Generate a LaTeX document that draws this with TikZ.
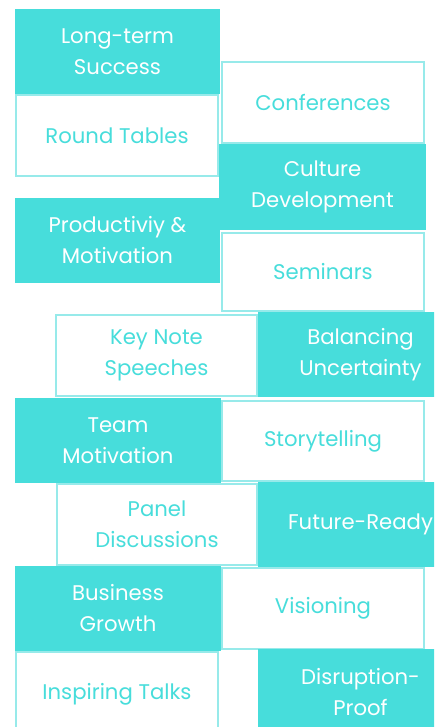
\documentclass[tikz,border=0pt]{standalone}
\usepackage{fontspec}
\setmainfont{Poppins}
\definecolor{teal}{HTML}{47DDDB}
\definecolor{tealline}{HTML}{97EAEA}
\tikzset{
  hub/.style={rectangle, fill=teal, text=white, anchor=north west, align=center,
    inner sep=0pt, outer sep=0pt, font=\fontsize{21.2}{31}\selectfont},
  spoke/.style={rectangle, fill=white, draw=tealline, line width=2.4pt, text=teal,
    anchor=north west, align=center, inner sep=0pt, outer sep=0pt,
    font=\fontsize{21.2}{31}\selectfont}
}

\begin{document}
\begin{tikzpicture}[x=1pt,y=-1pt]
    \useasboundingbox (0,0) rectangle (434,727);
    \clip (0,0) rectangle (434,727);
    % white boxes
    \foreach \nm/\x/\y/\w/\h/\txt in {conf/222/62/202/81/{Conferences},
        round/16/95/202/81/{Round Tables},
        sem/222/233/202/78/{Seminars},
        keynote/56/315/201/81/{Key Note\\Speeches},
        story/222/401/202/80/{Storytelling},
        panel/57/484/200/81/{Panel\\Discussions},
        vision/222/568/202/81/{Visioning},
        inspire/16/652/202/84/{Inspiring Talks}}
    \node[spoke, minimum width=\w, minimum height=\h] (\nm) at (\x,\y) {\txt};
    % filled boxes
    \foreach \nm/\x/\y/\w/\h/\txt in {success/15/9/205/85/{Long-term\\Success},
        culture/219/144/207/86/{Culture\\Development},
        product/15/198/205/85/{Productiviy \&\\Motivation},
        balance/258/312/205/85/{Balancing\\Uncertainty},
        team/15/398/206/85/{Team\\Motivation},
        future/258/482/205/85/{Future-Ready},
        business/15/566/206/85/{Business\\Growth},
        disrupt/258/649/205/86/{Disruption-\\Proof}}
    \node[hub, minimum width=\w, minimum height=\h] (\nm) at (\x,\y) {\txt};
\end{tikzpicture}
\end{document}
